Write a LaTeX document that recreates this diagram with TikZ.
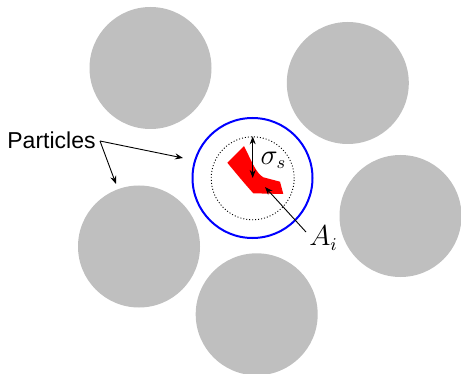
\documentclass[tikz,border=0pt]{standalone}
\usepackage{fontspec}
\setsansfont{Liberation Sans}
\usetikzlibrary{arrows.meta}
\begin{document}
\begin{tikzpicture}[x=0.5pt,y=-0.5pt,
  particle/.style={circle,fill=gray!50,minimum size=61pt,inner sep=0pt},
  probe/.style={circle,draw=blue,line width=1pt,minimum size=60pt,inner sep=0pt},
  window/.style={circle,draw,dash pattern=on 0.5pt off 1pt,line width=0.45pt,minimum size=41.5pt,inner sep=0pt},
  lbl/.style={inner sep=0pt},
  pointer/.style={-{Stealth[length=4pt,width=3pt]},line width=0.45pt},
  dpointer/.style={{Stealth[length=4pt,width=3pt]}-{Stealth[length=4pt,width=3pt]},line width=0.45pt}]
\useasboundingbox (0,0) rectangle (461,374);
% particles
\node[particle] (p1) at (150.5,68) {};
\node[particle] (p2) at (347.8,83) {};
\node[particle] (p3) at (400.5,216) {};
\node[particle] (p4) at (139,246.5) {};
\node[particle] (p5) at (256.7,314.3) {};
% probe circle and window
\node[probe] (probe) at (252.5,178) {};
\node[window] (win) at (252.7,178.3) {};
% red area
\fill[red] (227.3,162.7) -- (244,146)
  .. controls (252,162) and (256,173) .. (263.3,177.3)
  -- (280,181.7) -- (283.3,194) -- (253.3,193.3)
  .. controls (244,183) and (235,172) .. cycle;
% sigma arrow
\coordinate (wcenter) at (252.7,178);
\draw[dpointer] (win.north) -- (wcenter);
\node[lbl] (sigma) at (273.5,160) {\fontsize{13.5}{15}\selectfont$\sigma_s$};
% A_i label and pointer
\node[lbl] (Ai) at (323.5,238) {\fontsize{13.5}{15}\selectfont$A_i$};
\coordinate (aitail) at (306,232);
\coordinate (aitip) at (265,187);
\draw[pointer] (aitail) -- (aitip);
% Particles label
\node[lbl,anchor=base west] (plabel) at (7,148.3) {\fontsize{11.5}{14}\selectfont\sffamily Particles};
\coordinate (pstart) at (100,141);
\coordinate (ptipA) at (183,158);
\coordinate (ptipB) at (116,184);
\draw[pointer] (pstart) -- (ptipA);
\draw[pointer] (pstart) -- (ptipB);
\end{tikzpicture}
\end{document}
